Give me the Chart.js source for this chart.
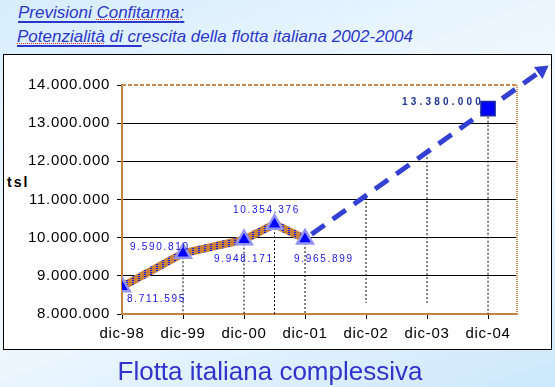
<!DOCTYPE html>
<html lang="it">
<head>
<meta charset="utf-8">
<title>Flotta italiana complessiva</title>
<script src="https://cdn.jsdelivr.net/npm/chart.js@4"></script>
<style>
  html, body { margin: 0; padding: 0; }
  body {
    width: 555px; height: 387px; position: relative; overflow: hidden;
    background: linear-gradient(160deg, #d6edfc 0%, #eef7ff 40%, #eef7ff 60%, #cce8fc 100%);
    font-family: 'Liberation Sans', Arial, sans-serif;
  }
  .title {
    position: absolute; left: 18px; font-style: italic; font-size: 17px; color: #2b36cc;
    white-space: nowrap;
  }
  #t1 { top: 3px; }
  #t2 { top: 27px; left: 17px; }
  .ul { text-decoration: underline 2px #2b36cc; text-underline-offset: 3px; }
  .sp { text-decoration: underline dotted #e03030 1px; text-underline-offset: 1px; }
  #panel {
    position: absolute; left: 3px; top: 54px; width: 547px; height: 294px;
    background: #fff; border: 1px solid #000;
  }
  #tsl {
    position: absolute; left: 7px; top: 174px; font-weight: bold; font-size: 14px;
    letter-spacing: 2px; color: #000;
  }
  #foot {
    position: absolute; left: 0; width: 540px; top: 356px; text-align: center;
    font-size: 26px; color: #3232cc;
  }
  canvas { position: absolute; left: 0; top: 0; }
</style>
</head>
<body>
<div class="title" id="t1"><span class="ul">Previsioni <span class="sp">Confitarma</span>:</span></div>
<div class="title" id="t2"><span class="ul"><span class="sp">Potenzialità</span> di cr</span>escita della flotta italiana 2002-2004</div>
<div id="panel"></div>
<div id="tsl">tsl</div>
<canvas id="flotta" width="555" height="387"></canvas>
<div id="foot">Flotta italiana complessiva</div>

<script>
'use strict';

// ── Data ──────────────────────────────────────────────────────────────────────
const categories = ['dic-98', 'dic-99', 'dic-00', 'dic-01', 'dic-02', 'dic-03', 'dic-04'];
const yTickValues = [8000000, 9000000, 10000000, 11000000, 12000000, 13000000, 14000000];

// historical series (x in years from dic-98)
const histX      = [0, 1, 2, 2.5, 3];
const histValues = [8711595, 9590810, 9948171, 10354376, 9965899];

// projection arrow: dic-01 -> dic-04 forecast -> arrow head
const projX      = [3, 6, 6.88];
const projValues = [9965899, 13380000, 14380000];

// dotted drop lines
const dropX      = [1, 2, 2.5, 3, 4, 5, 6];
const dropTop    = [9590810, 9948171, 10354376, 9965899, 11040000, 12110000, 13380000];
const dropBottom = [8000000, 8000000, 8000000, 8000000, 8290000, 8290000, 8000000];

// label offsets in px from the point (left edge of text, middle)
const histLabelOffsets = [[5, 12.5], [-53, -6], [-30, 19.5], [-41.5, -13.5], [-11, 20]];
const projLabelOffset  = [-86, -6.5];

// ── Helpers ───────────────────────────────────────────────────────────────────
function fmt(v) {
  return String(Math.round(v)).replace(/\B(?=(\d{3})+(?!\d))/g, '.');
}

const BROWN = '#c4843f';
const FONT = "'Liberation Sans', Arial, sans-serif";

// brown band with blue hatching, like the original line fill
function makeHatch() {
  const c = document.createElement('canvas');
  c.width = 6; c.height = 2;
  const g = c.getContext('2d');
  g.fillStyle = '#c8803a';
  g.fillRect(0, 0, 6, 2);
  g.fillStyle = '#1818e8';
  g.fillRect(0, 0, 2, 1);
  return g.createPattern(c, 'repeat');
}

// ── Plugins ───────────────────────────────────────────────────────────────────
// the old axis text is a bit looser than Liberation Sans
const looseText = {
  id: 'looseText',
  beforeDraw(chart) {
    if ('letterSpacing' in chart.ctx) chart.ctx.letterSpacing = '0.7px';
  },
  afterDraw(chart) {
    if ('letterSpacing' in chart.ctx) chart.ctx.letterSpacing = '0px';
  }
};

const frame = {
  id: 'frame',
  beforeDatasetsDraw(chart) {
    const { ctx, chartArea: a } = chart;
    ctx.save();
    ctx.strokeStyle = '#cc8a4e';
    ctx.lineWidth = 2;
    ctx.setLineDash([4, 2]);
    ctx.beginPath();
    ctx.moveTo(a.left, a.top);
    ctx.lineTo(a.right, a.top);
    ctx.stroke();
    ctx.setLineDash([1, 1]);
    ctx.beginPath();
    ctx.moveTo(a.right, a.top);
    ctx.lineTo(a.right, a.bottom);
    ctx.stroke();
    ctx.restore();
  }
};

const valueLabels = {
  id: 'valueLabels',
  afterDatasetsDraw(chart) {
    const ctx = chart.ctx;

    // arrow head sits outside the chart area, so draw that point without clipping
    chart.getDatasetMeta(1).data[2].draw(ctx);

    ctx.save();
    ctx.textAlign = 'left';
    ctx.textBaseline = 'middle';

    ctx.font = '10px ' + FONT;
    ctx.fillStyle = '#1414e6';
    if ('letterSpacing' in ctx) ctx.letterSpacing = '1.7px';
    chart.getDatasetMeta(0).data.forEach((pt, i) => {
      const [dx, dy] = histLabelOffsets[i];
      ctx.fillText(fmt(histValues[i]), pt.x + dx, pt.y + dy);
    });

    ctx.font = 'bold 10px ' + FONT;
    ctx.fillStyle = '#1e3496';
    if ('letterSpacing' in ctx) ctx.letterSpacing = '3.2px';
    const p = chart.getDatasetMeta(1).data[1];
    ctx.fillText(fmt(projValues[1]), p.x + projLabelOffset[0], p.y + projLabelOffset[1]);
    ctx.restore();
  }
};

// ── Chart ─────────────────────────────────────────────────────────────────────
const datasets = [
  {
    data: histX.map((x, i) => ({ x, y: histValues[i] })),
    showLine: true,
    borderColor: makeHatch(),
    borderWidth: 8,
    tension: 0,
    pointStyle: 'triangle',
    pointRadius: 9,
    pointBackgroundColor: '#0000ff',
    pointBorderColor: '#9494f0',
    pointBorderWidth: 2.5
  },
  {
    data: projX.map((x, i) => ({ x, y: projValues[i] })),
    showLine: true,
    clip: false,
    borderColor: '#3340d2',
    borderWidth: 5,
    borderDash: [16, 10],
    borderDashOffset: -8,
    pointStyle: ['circle', 'rect', 'triangle'],
    pointRadius: [0, 10, 8.5],
    pointRotation: [0, 0, 54.5],
    pointBackgroundColor: ['transparent', '#0000ff', '#3340d2'],
    pointBorderColor: ['transparent', '#1a2a9a', '#3340d2'],
    pointBorderWidth: [0, 1.5, 0]
  }
];

dropX.forEach((x, i) => {
  datasets.push({
    data: [{ x, y: dropTop[i] }, { x, y: dropBottom[i] }],
    showLine: true,
    borderColor: '#000',
    borderWidth: 1,
    borderDash: [2, 2],
    pointRadius: 0
  });
});

Chart.defaults.font.family = FONT;

new Chart(document.getElementById('flotta'), {
  type: 'scatter',
  data: { datasets },
  options: {
    responsive: false,
    animation: false,
    events: [],
    layout: { padding: { left: 0, top: 85, right: 38, bottom: 43 } },
    plugins: { legend: { display: false }, tooltip: { enabled: false } },
    scales: {
      x: {
        type: 'linear',
        min: 0,
        max: 6.475,
        afterBuildTicks: s => { s.ticks = categories.map((c, i) => ({ value: i })); },
        afterFit: s => { s.height = 30; },
        ticks: {
          callback: v => categories[v],
          color: '#000',
          font: { size: 15 },
          padding: 6,
          maxRotation: 0,
          autoSkip: false
        },
        grid: { drawOnChartArea: false, tickColor: '#000', tickLength: 5, lineWidth: 1 },
        border: { color: BROWN, width: 2 }
      },
      y: {
        min: 8000000,
        max: 14000000,
        afterBuildTicks: s => { s.ticks = yTickValues.map(v => ({ value: v })); },
        afterFit: s => { s.width = 122; },
        ticks: {
          callback: v => fmt(v),
          color: '#000',
          font: { size: 15 },
          padding: 7
        },
        grid: {
          color: c => (c.tick && (c.tick.value === 14000000 || c.tick.value === 8000000)) ? 'rgba(0,0,0,0)' : '#000',
          tickColor: '#000',
          tickLength: 5,
          lineWidth: 1
        },
        border: { color: BROWN, width: 2 }
      }
    }
  },
  plugins: [looseText, frame, valueLabels]
});
</script>
</body>
</html>
